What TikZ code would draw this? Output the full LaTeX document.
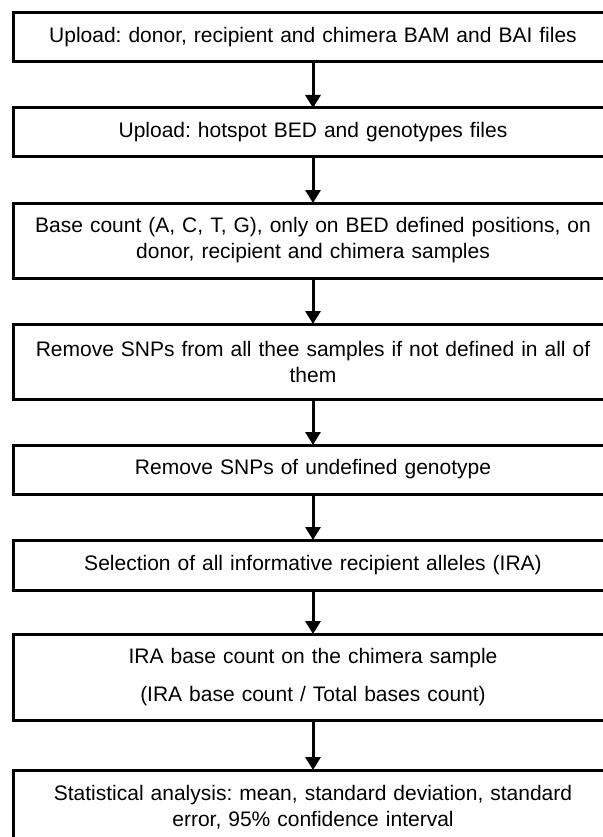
\documentclass[tikz,border=0pt]{standalone}
\usepackage{fontspec}
\setmainfont{Liberation Sans}
\usetikzlibrary{arrows.meta,positioning}
\frenchspacing

\begin{document}
\begin{tikzpicture}[x=1pt, y=1pt, node distance=46pt,
    every node/.style={font=\fontsize{21}{26}\selectfont},
    b/.style={draw, line width=3pt, minimum width=600pt, minimum height=49pt,
      text width=575pt, align=center, inner sep=0pt, outer sep=0pt},
    ar/.style={-{Triangle[length=13pt, width=15pt]}, line width=3pt}]
  \useasboundingbox (0,0) rectangle (602,-837);
  \node[b, anchor=north] (up1) at (313,-13) {Upload: donor, recipient and chimera BAM and BAI files};
  \node[b, below=of up1] (up2) {Upload: hotspot BED and genotypes files};
  \node[b, below=of up2, minimum height=75pt] (cnt) {Base count (A, C, T, G), only on BED defined positions, on\\donor, recipient and chimera samples};
  \node[b, below=of cnt, minimum height=75pt] (rm1) {Remove SNPs from all thee samples if not defined in all of\\them};
  \node[b, below=of rm1] (rm2) {Remove SNPs of undefined genotype};
  \node[b, below=of rm2, minimum height=50pt] (sel) {Selection of all informative recipient alleles (IRA)};
  \node[b, below=44pt of sel, minimum height=86pt] (ira) {IRA base count on the chimera sample\\[12pt](IRA base count / Total bases count)};
  \node[b, below=50pt of ira, minimum height=75pt] (st) {Statistical analysis: mean, standard deviation, standard\\error, 95\% confidence interval};
  \foreach \a/\b in {up1/up2, up2/cnt, cnt/rm1, rm1/rm2, rm2/sel, sel/ira, ira/st} \draw[ar] (\a) -- (\b);
\end{tikzpicture}
\end{document}
